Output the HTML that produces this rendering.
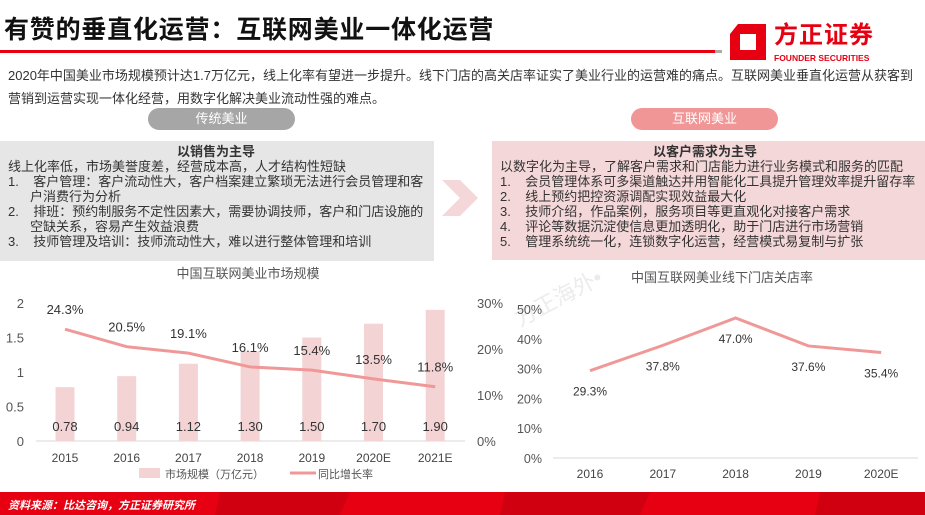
<!DOCTYPE html>
<html><head><meta charset="utf-8">
<style>
body{margin:0;width:925px;height:515px;overflow:hidden;background:#fff;font-family:"Liberation Sans","Noto Sans CJK SC",sans-serif;position:relative;color:#333}
.abs{position:absolute}
.box{font-size:13px;line-height:15px;color:#333}
.box div{white-space:nowrap}
.li{padding-left:22px;text-indent:-22px}
</style></head><body>
<div class="abs" style="left:508px;top:305px;font-size:22px;color:#ececec;transform:rotate(-28deg);transform-origin:left top;white-space:nowrap">方正海外•</div>
<div class="abs" style="left:4px;top:10px;font-size:25px;font-weight:bold;color:#111;letter-spacing:0.8px;white-space:nowrap">有赞的垂直化运营：互联网美业一体化运营</div>
<div class="abs" style="left:0;top:50px;width:715px;height:3px;background:#e60012"></div>
<div class="abs" style="left:715px;top:50px;width:7px;height:3px;background:#aaa"></div>
<svg class="abs" style="left:728px;top:22px" width="40" height="40" viewBox="0 0 40 40"><path d="M10 2H38V38H2V12ZM12 12V28H28V12Z" fill="#e60012" fill-rule="evenodd"/></svg>
<div class="abs" style="left:774px;top:22px;font-size:24px;line-height:28px;font-weight:bold;color:#e60012;white-space:nowrap;letter-spacing:1px">方正证券</div>
<div class="abs" style="left:774px;top:53px;font-size:8.5px;font-weight:bold;color:#e60012;white-space:nowrap">FOUNDER SECURITIES</div>
<div class="abs" style="left:8px;top:64px;width:915px;font-size:13px;line-height:23px;color:#333">2020年中国美业市场规模预计达1.7万亿元，线上化率有望进一步提升。线下门店的高关店率证实了美业行业的运营难的痛点。互联网美业垂直化运营从获客到营销到运营实现一体化经营，用数字化解决美业流动性强的难点。</div>
<div class="abs" style="left:148px;top:108px;width:147px;height:22px;border-radius:11px;background:#a6a6a6;color:#fff;font-size:13px;line-height:22px;text-align:center">传统美业</div>
<div class="abs" style="left:631px;top:108px;width:147px;height:22px;border-radius:11px;background:#f09696;color:#fff;font-size:13px;line-height:22px;text-align:center">互联网美业</div>
<div class="abs box" style="left:0;top:141px;width:426px;height:117px;background:#e6e6e6;padding:3px 0 0 8px">
<div style="text-align:center;font-weight:bold;padding-right:10px">以销售为主导</div>
<div>线上化率低，市场美誉度差，经营成本高，人才结构性短缺</div>
<div class="li" style="white-space:normal">1.&nbsp;&nbsp;&nbsp; 客户管理：客户流动性大，客户档案建立繁琐无法进行会员管理和客户消费行为分析</div>
<div class="li" style="white-space:normal">2.&nbsp;&nbsp;&nbsp; 排班：预约制服务不定性因素大，需要协调技师，客户和门店设施的空缺关系，容易产生效益浪费</div>
<div>3.&nbsp;&nbsp;&nbsp; 技师管理及培训：技师流动性大，难以进行整体管理和培训</div>
</div>
<svg class="abs" style="left:440px;top:180px" width="40" height="36"><path d="M2 0H20L38 18L20 36H2L20 18Z" fill="#f4d7d8"/></svg>
<div class="abs box" style="left:492px;top:141px;width:425px;height:116px;background:#f4d7d8;padding:3px 0 0 8px">
<div style="text-align:center;font-weight:bold;padding-right:15px">以客户需求为主导</div>
<div>以数字化为主导，了解客户需求和门店能力进行业务模式和服务的匹配</div>
<div>1.&nbsp;&nbsp;&nbsp; 会员管理体系可多渠道触达并用智能化工具提升管理效率提升留存率</div>
<div>2.&nbsp;&nbsp;&nbsp; 线上预约把控资源调配实现效益最大化</div>
<div>3.&nbsp;&nbsp;&nbsp; 技师介绍，作品案例，服务项目等更直观化对接客户需求</div>
<div>4.&nbsp;&nbsp;&nbsp; 评论等数据沉淀使信息更加透明化，助于门店进行市场营销</div>
<div>5.&nbsp;&nbsp;&nbsp; 管理系统统一化，连锁数字化运营，经营模式易复制与扩张</div>
</div>
<svg class="abs" id="c2" style="left:480px;top:260px" width="445" height="230"></svg>
<svg class="abs" id="c1" style="left:0;top:260px;overflow:visible" width="520" height="230"></svg>
<svg class="abs" style="left:0;top:492px" width="925" height="23"><rect width="925" height="23" fill="#e60012"/><path d="M220 0H350L340 23H215Z M505 0H650L640 23H500Z M820 0H925V23H815Z" fill="#d00010"/></svg>
<div class="abs" style="left:8px;top:497px;font-size:11px;font-weight:bold;font-style:italic;color:#fff;white-space:nowrap">资料来源：比达咨询，方正证券研究所</div>
<script>
const cats1=["2015","2016","2017","2018","2019","2020E","2021E"];
const size1=[0.78,0.94,1.12,1.30,1.50,1.70,1.90];
const growth1=[24.3,20.5,19.1,16.1,15.4,13.5,11.8];
const leftTicks=["0","0.5","1","1.5","2"];
const rightTicks=["0%","10%","20%","30%"];
const cats2=["2016","2017","2018","2019","2020E"];
const rate2=[29.3,37.8,47.0,37.6,35.4];
const ticks2=["0%","10%","20%","30%","40%","50%"];
const NS="http://www.w3.org/2000/svg";
function mk(p,t,a,txt){const e=document.createElementNS(NS,t);for(const k in a)e.setAttribute(k,a[k]);if(txt!==undefined)e.textContent=txt;p.appendChild(e);return e;}
const F='"Liberation Sans","Noto Sans CJK SC",sans-serif';
(function(){
const s=document.getElementById('c1');
const y0=181,yTop=43,xs=i=>65+i*61.7;
const yL=v=>y0-v/2*(y0-yTop), yR=v=>y0-v/30*(y0-yTop);
let t=mk(s,'text',{x:248,y:18,'text-anchor':'middle','font-size':13,fill:'#555','font-family':F},'中国互联网美业市场规模');


leftTicks.forEach((l,i)=>{let e=mk(s,'text',{x:24,y:yL(i*0.5)+5,'text-anchor':'end','font-size':13,fill:'#555','font-family':F},l);

});
rightTicks.forEach((l,i)=>{let e=mk(s,'text',{x:477,y:yR(i*10)+5,'text-anchor':'start','font-size':13,fill:'#555','font-family':F},l);

});
let ax=mk(s,'line',{x1:36,x2:465,y1:y0,y2:y0,stroke:'#d9d9d9'});


cats1.forEach((c,i)=>{
let b=mk(s,'rect',{x:xs(i)-9.5,y:yL(size1[i]),width:19,height:y0-yL(size1[i]),fill:'#f4d3d4'});


let v=mk(s,'text',{x:xs(i),y:171,'text-anchor':'middle','font-size':13,fill:'#333','font-family':F},size1[i].toFixed(2));


let xl=mk(s,'text',{x:xs(i),y:202,'text-anchor':'middle','font-size':12,fill:'#444','font-family':F},c);


});
let pl=mk(s,'polyline',{points:growth1.map((g,i)=>xs(i)+','+yR(g)).join(' '),fill:'none',stroke:'#f09898','stroke-width':3});


growth1.forEach((g,i)=>{let e=mk(s,'text',{x:xs(i),y:yR(g)-15,'text-anchor':'middle','font-size':13,fill:'#333','font-family':F},g.toFixed(1)+'%');

});
let l1=mk(s,'rect',{x:139,y:208,width:21,height:10,fill:'#f4d3d4'});


let l2=mk(s,'text',{x:165,y:218,'font-size':11,fill:'#555','font-family':F},'市场规模（万亿元）');


let l3=mk(s,'line',{x1:290,x2:316,y1:213,y2:213,stroke:'#f09898','stroke-width':3});


let l4=mk(s,'text',{x:318,y:218,'font-size':11,fill:'#555','font-family':F},'同比增长率');


})();
(function(){
const s=document.getElementById('c2');
const y0=198,yTop=49,xs=i=>110+i*72.8;
const y=v=>y0-v/50*(y0-yTop);
let t=mk(s,'text',{x:242,y:22,'text-anchor':'middle','font-size':13,fill:'#555','font-family':F},'中国互联网美业线下门店关店率');


ticks2.forEach((l,i)=>{let e=mk(s,'text',{x:62,y:y(i*10)+5,'text-anchor':'end','font-size':12.5,fill:'#555','font-family':F},l);

});
let ax=mk(s,'line',{x1:73,x2:438,y1:y0,y2:y0,stroke:'#d9d9d9'});


cats2.forEach((c,i)=>{let e=mk(s,'text',{x:xs(i),y:218,'text-anchor':'middle','font-size':12,fill:'#444','font-family':F},c);

});
let pl=mk(s,'polyline',{points:rate2.map((r,i)=>xs(i)+','+y(r)).join(' '),fill:'none',stroke:'#f09898','stroke-width':3});


rate2.forEach((r,i)=>{let e=mk(s,'text',{x:xs(i),y:y(r)+25,'text-anchor':'middle','font-size':12,fill:'#333','font-family':F},r.toFixed(1)+'%');

});
})();
</script>
</body></html>
